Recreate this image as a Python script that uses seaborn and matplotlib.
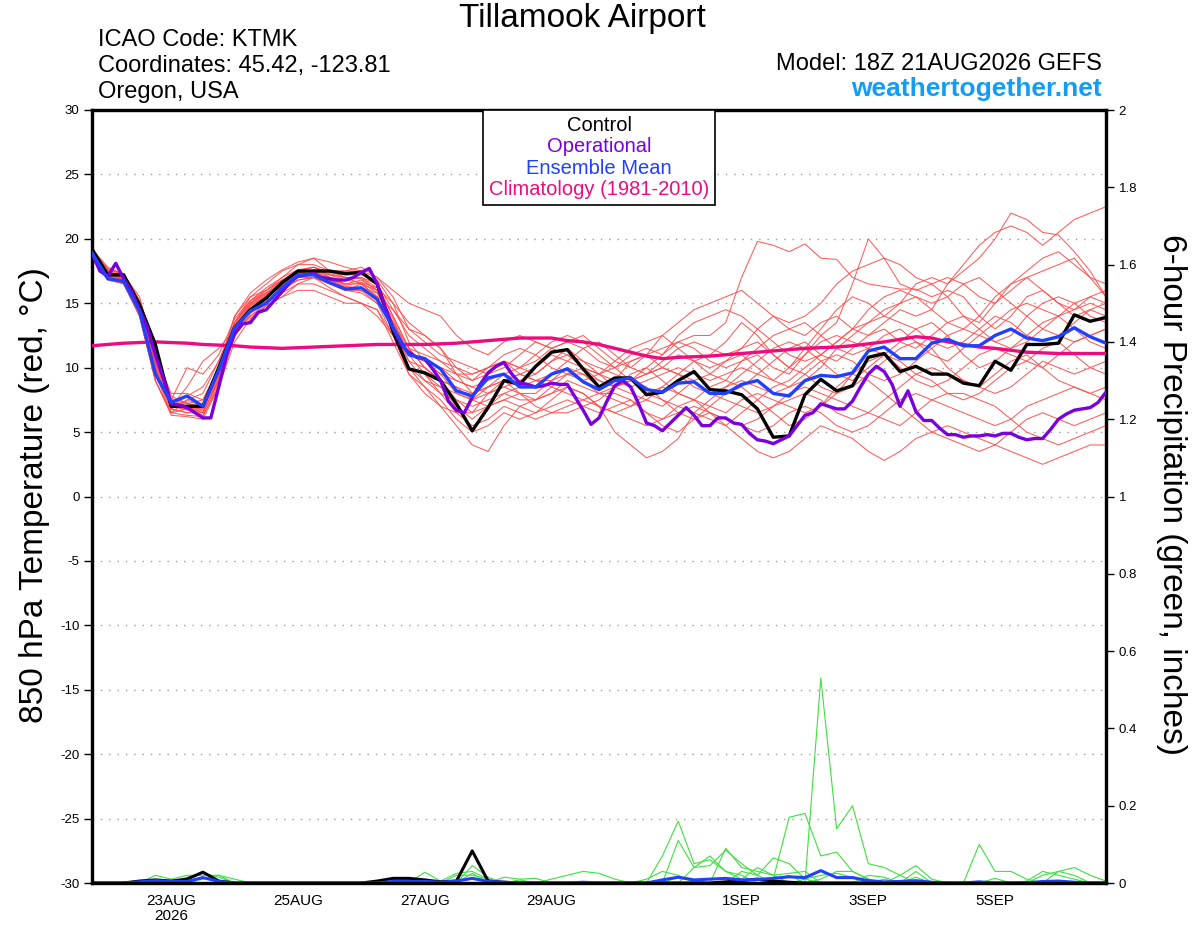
import numpy as np
import pandas as pd
import matplotlib
matplotlib.use("Agg")
import matplotlib.pyplot as plt
from matplotlib.lines import Line2D
from matplotlib.ticker import FuncFormatter
import seaborn as sns

# ---------------- data ----------------
hours = [6 * k for k in range(65)]          # 18Z 21AUG2026 + 0..384 h
hours_op = [3 * k for k in range(129)]      # operational run, 3-hourly

control = [19.2, 17.2, 17.2, 14.9, 11.8, 7.0, 7.0, 7.0, 10.0, 13.1,
           14.5, 15.4, 16.6, 17.5, 17.5, 17.5, 17.3, 17.4, 16.5, 12.8,
           9.9, 9.6, 9.0, 7.2, 5.1, 6.9, 9.0, 8.7, 10.1, 11.2,
           11.4, 9.9, 8.5, 9.2, 9.2, 7.9, 8.1, 9.0, 9.7, 8.3,
           8.2, 7.9, 6.8, 4.6, 4.7, 7.9, 9.1, 8.2, 8.6, 10.8,
           11.1, 9.7, 10.1, 9.5, 9.5, 8.8, 8.6, 10.5, 9.8, 11.8,
           11.8, 11.9, 14.1, 13.6, 13.9]

ens_mean = [18.9, 16.9, 16.7, 14.4, 9.5, 7.3, 7.8, 7.0, 9.8, 13.1,
            14.4, 15.0, 16.2, 17.2, 17.2, 16.6, 16.1, 16.2, 15.3, 13.1,
            11.0, 10.7, 9.9, 8.2, 7.8, 9.2, 9.5, 8.5, 8.5, 9.5,
            9.9, 8.9, 8.3, 9.0, 9.2, 8.3, 8.1, 8.8, 8.9, 8.0,
            8.0, 8.7, 9.0, 8.0, 7.8, 9.0, 9.4, 9.3, 9.6, 11.3,
            11.6, 10.7, 10.7, 11.9, 12.2, 11.7, 11.7, 12.5, 13.0, 12.3,
            12.1, 12.4, 13.1, 12.4, 11.9]

climatology = [11.7, 11.8, 11.9, 11.95, 12.0, 11.95, 11.9, 11.8, 11.75, 11.7,
               11.6, 11.55, 11.5, 11.55, 11.6, 11.65, 11.7, 11.75, 11.8, 11.8,
               11.8, 11.8, 11.85, 11.9, 12.0, 12.1, 12.2, 12.3, 12.3, 12.3,
               12.1, 12.0, 11.8, 11.5, 11.2, 10.9, 10.7, 10.8, 10.85, 10.9,
               11.0, 11.1, 11.2, 11.3, 11.4, 11.5, 11.55, 11.6, 11.7, 11.85,
               12.0, 12.2, 12.4, 12.3, 12.0, 11.8, 11.6, 11.5, 11.35, 11.2,
               11.15, 11.1, 11.1, 11.1, 11.1]

operational = [18.9, 17.5, 17.1, 18.1, 16.9, 15.9, 14.5, 13.1, 11.0, 9.2, 7.2,
               7.1, 6.9, 6.5, 6.1, 6.1, 8.5, 11.0, 12.6, 13.4, 13.5,
               14.3, 14.5, 15.2, 15.9, 16.6, 17.1, 17.2, 17.3, 17.0, 16.9,
               16.8, 16.8, 17.0, 17.4, 17.7, 16.5, 14.7, 13.1, 11.8, 11.2,
               10.8, 10.7, 9.9, 9.0, 7.4, 6.7, 6.5, 7.7, 8.7, 9.6,
               10.1, 10.4, 9.5, 8.8, 8.7, 8.5, 8.6, 8.8, 8.7, 8.7,
               7.7, 6.7, 5.6, 6.1, 7.4, 8.6, 9.0, 8.5, 7.2, 5.7,
               5.5, 5.1, 5.7, 6.3, 6.9, 6.3, 5.5, 5.5, 6.1, 6.1,
               5.7, 5.6, 4.9, 4.4, 4.3, 4.1, 4.4, 4.7, 5.5, 6.3,
               6.5, 7.2, 7.0, 6.8, 6.8, 7.4, 8.5, 9.5, 10.1, 9.7,
               8.7, 7.0, 8.2, 6.6, 5.9, 5.9, 5.3, 4.8, 4.8, 4.6,
               4.7, 4.7, 4.8, 4.7, 4.9, 4.9, 4.6, 4.4, 4.5, 4.5,
               5.2, 6.0, 6.4, 6.7, 6.8, 6.9, 7.3, 8.1]

m01 = [19.0, 17.5, 17.0, 15.0, 10.5, 7.0, 6.8, 6.5, 9.0, 13.0,
       14.8, 15.5, 16.5, 17.5, 17.8, 17.0, 16.5, 16.8, 16.0, 13.5,
       11.0, 10.5, 9.5, 8.0, 7.5, 8.5, 9.0, 8.0, 8.0, 9.0,
       10.0, 9.5, 8.5, 9.0, 10.5, 11.0, 10.0, 9.5, 10.5, 11.0,
       12.0, 13.5, 12.5, 11.0, 10.0, 11.5, 13.0, 14.5, 15.5, 15.0,
       14.0, 15.0, 16.5, 17.0, 16.5, 18.0, 19.5, 20.5, 21.0, 20.5,
       19.5, 20.5, 21.5, 22.0, 22.5]
m02 = [18.5, 17.0, 16.8, 14.0, 9.0, 6.5, 7.5, 8.0, 10.5, 13.5,
       15.0, 16.0, 17.0, 18.0, 18.5, 17.5, 17.0, 16.5, 15.5, 13.0,
       10.5, 10.0, 9.0, 7.5, 6.5, 8.0, 9.0, 9.5, 10.0, 11.0,
       10.5, 10.0, 9.5, 10.0, 11.0, 11.5, 11.0, 12.0, 12.5, 12.5,
       13.5, 17.0, 19.8, 19.5, 19.0, 19.6, 18.5, 18.4, 17.0, 16.5,
       16.3, 16.1, 16.1, 15.5, 16.0, 15.5, 14.0, 13.0, 14.0, 15.5,
       16.0, 15.0, 14.5, 15.5, 16.0]
m03 = [19.2, 17.8, 17.2, 15.5, 11.0, 7.5, 7.0, 7.2, 9.5, 13.5,
       15.5, 16.5, 17.5, 18.0, 18.0, 17.5, 17.5, 17.8, 17.0, 15.5,
       13.0, 12.5, 11.5, 10.0, 9.0, 9.5, 10.5, 10.0, 9.5, 10.5,
       11.0, 10.0, 9.0, 8.5, 9.5, 10.0, 9.0, 8.0, 7.5, 8.5,
       9.0, 10.5, 11.0, 10.0, 9.5, 11.0, 12.5, 13.5, 16.5, 20.0,
       18.5, 16.5, 16.0, 16.5, 15.5, 14.0, 13.5, 15.0, 16.5, 17.5,
       18.5, 19.0, 18.0, 17.0, 16.5]
m04 = [18.8, 17.2, 17.0, 14.5, 10.0, 6.8, 6.5, 6.5, 9.0, 12.5,
       14.5, 15.5, 16.5, 17.0, 17.0, 16.5, 16.0, 16.5, 16.0, 13.0,
       10.0, 9.5, 8.5, 7.0, 6.0, 7.0, 8.0, 7.5, 7.5, 8.0,
       9.0, 8.5, 8.0, 8.5, 9.0, 9.5, 10.5, 11.5, 12.0, 11.5,
       11.0, 11.5, 13.0, 14.0, 13.0, 12.5, 13.5, 14.0, 13.0, 12.5,
       13.5, 14.5, 14.0, 14.5, 16.5, 17.5, 18.5, 20.0, 22.0, 21.5,
       20.5, 20.3, 19.0, 17.5, 15.5]
m05 = [18.6, 17.0, 16.5, 14.0, 9.0, 6.3, 6.2, 6.0, 8.5, 12.5,
       14.0, 15.0, 15.8, 16.5, 16.5, 16.0, 15.5, 15.0, 14.5, 12.0,
       9.5, 8.5, 7.5, 6.0, 5.0, 5.5, 6.5, 6.0, 6.5, 7.0,
       7.5, 7.0, 6.5, 7.0, 7.5, 6.5, 5.5, 5.0, 6.0, 6.5,
       5.5, 4.5, 3.5, 3.0, 3.5, 4.5, 5.5, 5.0, 4.5, 3.5,
       2.8, 3.5, 4.5, 5.0, 5.5, 5.0, 4.5, 4.0, 3.5, 3.0,
       2.5, 3.0, 3.5, 4.0, 4.0]
m06 = [19.0, 17.6, 17.3, 15.2, 11.0, 8.0, 8.0, 7.5, 10.0, 14.0,
       15.5, 16.0, 16.8, 17.5, 17.8, 17.2, 17.0, 17.0, 16.5, 14.5,
       12.5, 11.5, 10.5, 9.5, 9.0, 10.0, 10.5, 9.5, 9.0, 9.5,
       10.5, 11.5, 12.0, 11.0, 10.0, 9.5, 10.0, 11.0, 10.5, 9.5,
       9.0, 8.5, 9.5, 10.5, 11.5, 12.0, 11.0, 10.5, 11.5, 12.5,
       13.0, 12.0, 11.5, 12.5, 13.5, 14.0, 13.0, 12.0, 12.5, 14.0,
       15.0, 15.5, 15.0, 14.0, 13.5]
m07 = [18.7, 17.3, 16.8, 14.8, 10.5, 7.5, 10.0, 9.5, 11.0, 13.8,
       15.2, 15.8, 16.2, 16.8, 17.0, 16.2, 15.5, 15.0, 14.0, 12.5,
       11.0, 10.5, 10.0, 9.0, 8.5, 8.0, 8.5, 9.0, 9.5, 10.5,
       11.5, 10.5, 9.5, 8.5, 8.0, 7.5, 7.0, 8.0, 9.0, 9.5,
       10.5, 11.5, 12.0, 11.0, 10.0, 9.5, 8.5, 8.0, 8.5, 9.5,
       10.5, 11.5, 12.0, 11.5, 10.0, 9.0, 8.5, 9.5, 10.5, 11.0,
       10.0, 9.0, 8.5, 8.0, 7.5]
m08 = [18.9, 17.4, 17.0, 14.5, 9.5, 7.0, 8.5, 10.5, 11.5, 13.0,
       14.0, 14.8, 15.5, 16.5, 17.0, 16.5, 16.0, 16.0, 15.0, 13.5,
       11.5, 10.0, 9.0, 8.5, 7.5, 7.0, 7.5, 8.0, 7.0, 6.5,
       6.5, 7.0, 7.5, 8.5, 9.0, 8.5, 7.5, 6.5, 6.0, 7.0,
       8.0, 8.5, 7.5, 6.5, 5.5, 6.0, 7.0, 8.0, 9.5, 10.5,
       11.0, 10.5, 9.5, 9.0, 8.0, 7.5, 8.0, 9.0, 10.0, 10.5,
       11.5, 12.0, 11.0, 10.0, 9.5]
m09 = [19.1, 17.6, 17.2, 15.0, 10.5, 7.2, 7.0, 7.0, 9.5, 13.2,
       15.0, 15.8, 16.5, 17.0, 17.5, 17.5, 17.5, 17.5, 17.0, 16.0,
       15.0, 14.5, 14.0, 12.5, 11.5, 11.0, 12.0, 12.5, 12.0, 11.5,
       12.0, 12.5, 11.5, 10.5, 10.0, 11.0, 12.5, 13.5, 14.5, 15.0,
       15.5, 16.0, 15.0, 14.0, 13.5, 14.0, 15.0, 16.5, 17.5, 18.0,
       18.5, 18.0, 17.0, 16.5, 17.0, 16.5, 15.5, 15.0, 16.0, 17.0,
       17.5, 18.0, 18.5, 17.0, 15.5]
m10 = [18.4, 16.8, 16.5, 14.0, 9.0, 6.5, 6.8, 6.3, 8.5, 12.0,
       13.8, 14.8, 15.5, 16.0, 16.0, 15.5, 15.0, 15.0, 14.5, 12.5,
       10.0, 8.5, 7.0, 5.5, 4.0, 3.5, 5.5, 7.0, 7.5, 8.0,
       8.5, 8.0, 7.0, 6.5, 7.0, 8.0, 8.5, 8.0, 7.5, 6.5,
       6.0, 5.5, 5.0, 5.5, 6.5, 7.0, 6.5, 5.5, 5.0, 5.5,
       6.5, 7.5, 8.0, 7.5, 7.0, 6.5, 6.0, 5.5, 6.0, 7.0,
       7.5, 8.0, 8.5, 8.0, 8.5]
m11 = [18.8, 17.2, 16.9, 14.6, 10.0, 7.0, 6.8, 6.8, 9.2, 13.0,
       14.6, 15.4, 16.4, 17.2, 17.4, 17.0, 16.8, 17.0, 16.2, 14.0,
       11.5, 10.0, 9.0, 8.5, 8.0, 8.5, 9.5, 10.0, 11.0, 12.0,
       12.5, 12.0, 11.0, 10.0, 9.0, 8.0, 7.5, 7.0, 6.5, 6.0,
       5.5, 6.5, 7.5, 8.5, 9.0, 10.0, 11.0, 12.0, 13.0, 13.5,
       14.5, 15.0, 15.5, 14.5, 13.5, 13.0, 14.0, 15.5, 16.5, 17.0,
       16.0, 15.0, 14.0, 14.5, 15.0]
m12 = [18.9, 17.5, 17.1, 15.0, 10.8, 7.8, 7.2, 7.5, 10.0, 13.5,
       15.2, 16.2, 17.0, 17.6, 17.8, 17.4, 17.2, 17.2, 16.8, 15.0,
       12.0, 10.5, 9.5, 9.0, 8.5, 9.0, 9.5, 9.0, 8.5, 9.5,
       10.0, 9.0, 8.0, 7.5, 7.0, 7.5, 8.5, 9.5, 9.0, 8.0,
       7.5, 7.0, 6.5, 7.0, 8.0, 8.5, 8.0, 7.5, 7.0, 6.5,
       6.0, 5.5, 6.5, 7.5, 8.0, 8.0, 7.5, 7.0, 6.0, 5.0,
       4.5, 4.0, 4.5, 5.0, 5.5]
m13 = [18.6, 17.1, 16.6, 14.2, 9.8, 6.8, 7.5, 7.0, 9.0, 12.8,
       14.5, 15.5, 16.5, 17.2, 17.2, 16.8, 16.5, 16.5, 15.5, 13.0,
       10.5, 9.0, 8.0, 7.5, 7.0, 7.5, 8.0, 8.5, 9.0, 8.5,
       8.0, 7.5, 7.0, 5.0, 4.0, 3.0, 3.5, 4.5, 6.5, 7.5,
       8.5, 9.5, 10.5, 11.5, 12.0, 11.5, 10.5, 9.5, 9.0, 10.0,
       11.0, 12.0, 13.0, 13.5, 12.5, 11.0, 10.0, 10.5, 11.5, 12.5,
       13.5, 14.0, 13.0, 12.0, 11.5]
m14 = [19.0, 17.4, 17.1, 14.9, 10.2, 7.3, 7.8, 8.5, 10.5, 13.5,
       15.0, 15.8, 16.8, 17.3, 17.3, 16.8, 16.2, 16.0, 15.5, 14.5,
       13.0, 12.0, 11.0, 10.5, 10.0, 9.5, 10.0, 11.0, 12.0, 11.5,
       11.0, 10.5, 10.0, 9.5, 9.0, 9.5, 10.0, 9.5, 8.5, 8.0,
       8.5, 9.0, 8.5, 8.0, 8.5, 9.5, 10.5, 11.0, 10.5, 9.5,
       9.0, 9.5, 10.5, 11.5, 12.5, 13.0, 12.5, 12.0, 11.5, 12.0,
       13.0, 14.0, 15.0, 15.5, 15.0]
m15 = [18.7, 17.0, 16.7, 14.3, 9.5, 6.8, 6.5, 6.8, 9.5, 13.0,
       14.8, 15.6, 16.4, 17.0, 17.2, 16.8, 16.3, 16.2, 15.8, 13.8,
       11.0, 9.5, 8.0, 6.5, 5.5, 6.0, 7.0, 6.5, 6.0, 6.5,
       7.0, 7.5, 8.0, 8.0, 7.5, 6.5, 6.0, 6.5, 7.0, 6.5,
       6.0, 5.5, 6.0, 7.0, 7.5, 8.0, 7.5, 6.5, 6.0, 6.5,
       7.5, 8.5, 9.5, 10.0, 9.5, 9.0, 8.5, 8.0, 8.5, 9.5,
       10.5, 10.0, 9.5, 10.0, 10.5]
m16 = [18.9, 17.3, 16.9, 14.7, 10.0, 7.0, 7.0, 6.5, 9.0, 12.8,
       14.6, 15.6, 16.6, 17.4, 17.5, 17.2, 16.8, 16.6, 15.8, 13.5,
       11.0, 10.5, 10.0, 9.5, 9.5, 10.0, 10.5, 10.0, 10.5, 11.5,
       12.0, 11.5, 10.5, 10.0, 10.5, 11.0, 11.5, 12.0, 11.5, 10.5,
       10.0, 10.5, 11.5, 12.5, 13.0, 13.5, 12.5, 11.5, 11.0, 11.5,
       12.5, 13.0, 12.0, 11.0, 10.5, 11.5, 12.5, 13.5, 14.5, 15.0,
       14.5, 14.0, 14.5, 15.0, 14.5]
m17 = [18.5, 17.0, 16.5, 14.2, 9.5, 6.5, 6.3, 6.2, 8.8, 12.5,
       14.2, 15.2, 16.0, 16.8, 17.0, 16.6, 16.0, 15.8, 15.0, 12.5,
       9.5, 8.0, 7.0, 6.5, 6.5, 7.0, 7.5, 7.0, 6.5, 7.5,
       8.5, 8.0, 7.0, 6.5, 6.0, 5.5, 6.0, 7.0, 7.5, 7.0,
       6.5, 7.5, 8.0, 7.5, 7.0, 6.5, 7.0, 8.5, 9.5, 9.0,
       8.0, 7.0, 6.0, 5.0, 4.5, 4.0, 3.5, 4.0, 5.0, 6.0,
       6.5, 6.0, 5.5, 6.0, 6.5]
m18 = [19.2, 17.7, 17.3, 15.2, 10.5, 7.5, 7.2, 7.0, 10.0, 14.0,
       15.8, 16.8, 17.6, 18.2, 18.5, 18.2, 17.8, 17.5, 16.5, 14.0,
       11.5, 11.0, 10.5, 10.0, 9.5, 10.0, 11.0, 11.5, 11.0, 10.0,
       9.5, 9.0, 9.5, 10.5, 11.5, 12.0, 12.5, 11.5, 10.5, 10.0,
       10.5, 11.0, 10.0, 9.0, 8.5, 9.0, 10.0, 11.5, 12.5, 13.5,
       14.0, 13.5, 13.0, 12.0, 11.5, 12.0, 13.0, 14.0, 13.5, 12.5,
       12.0, 12.5, 13.5, 14.5, 14.0]
m19 = [18.6, 17.1, 16.8, 14.4, 9.8, 7.0, 6.7, 6.9, 9.3, 13.0,
       14.9, 15.7, 16.7, 17.3, 17.6, 17.3, 17.0, 16.9, 16.0, 13.0,
       10.0, 9.0, 8.5, 8.0, 7.5, 8.0, 8.5, 8.0, 7.5, 8.5,
       9.5, 10.0, 9.5, 9.0, 8.5, 9.0, 9.5, 10.0, 9.5, 9.0,
       9.5, 10.0, 9.5, 9.0, 10.0, 11.0, 12.0, 12.5, 12.0, 11.5,
       11.0, 10.0, 9.0, 8.5, 9.0, 10.0, 11.0, 11.5, 11.0, 10.5,
       10.0, 11.0, 12.0, 12.5, 13.0]
m20 = [18.8, 17.2, 16.8, 14.6, 10.3, 7.6, 7.3, 6.6, 9.6, 13.3,
       15.2, 16.0, 16.8, 17.4, 17.5, 17.0, 16.4, 16.6, 16.2, 15.0,
       13.5, 12.5, 11.5, 9.5, 8.0, 8.5, 9.0, 9.5, 9.0, 9.0,
       9.5, 9.5, 9.0, 8.5, 9.0, 10.0, 11.0, 12.5, 13.5, 14.0,
       14.5, 14.0, 13.0, 12.0, 11.0, 10.5, 11.0, 12.0, 13.0, 14.5,
       15.5, 16.0, 15.5, 15.0, 15.5, 16.5, 17.0, 16.0, 15.0, 14.0,
       13.0, 12.5, 12.0, 12.5, 13.0]
members = [m01, m02, m03, m04, m05, m06, m07, m08, m09, m10,
           m11, m12, m13, m14, m15, m16, m17, m18, m19, m20]

# 6-hour precipitation (inches)
g1 = [0, 0, 0, 0, 0, 0, 0, 0, 0, 0, 0, 0, 0,
      0, 0, 0, 0, 0, 0, 0, 0, 0, 0, 0, 0, 0,
      0, 0, 0, 0, 0, 0, 0, 0, 0, 0.01, 0.03, 0.02, 0,
      0, 0, 0, 0, 0.01, 0.02, 0, 0.53, 0.14, 0.20, 0.05, 0.04, 0.02,
      0, 0, 0, 0, 0, 0, 0, 0, 0, 0, 0, 0, 0]
g2 = [0, 0, 0, 0, 0, 0, 0, 0, 0, 0, 0, 0, 0,
      0, 0, 0, 0, 0, 0, 0, 0, 0, 0, 0, 0, 0,
      0, 0, 0, 0, 0, 0, 0, 0, 0, 0, 0.07, 0.16, 0.05,
      0.06, 0.03, 0.02, 0, 0.01, 0.17, 0.18, 0.07, 0.08, 0.03, 0.01, 0, 0,
      0, 0, 0, 0, 0, 0, 0, 0, 0, 0, 0, 0, 0]
g3 = [0, 0, 0, 0, 0, 0, 0, 0, 0, 0, 0, 0, 0,
      0, 0, 0, 0, 0, 0, 0, 0, 0, 0, 0, 0, 0,
      0, 0, 0, 0, 0, 0, 0, 0, 0, 0, 0, 0.11, 0.04,
      0.045, 0.085, 0.05, 0.02, 0.065, 0.05, 0.01, 0, 0, 0, 0, 0, 0.02,
      0.045, 0.01, 0, 0, 0, 0, 0, 0, 0, 0, 0, 0, 0]
g4 = [0, 0, 0, 0, 0.02, 0.01, 0.02, 0.02, 0.02, 0.01, 0, 0, 0,
      0, 0, 0, 0, 0, 0, 0, 0, 0.028, 0.005, 0.025, 0.03, 0.01,
      0, 0.008, 0, 0.01, 0.02, 0.03, 0.025, 0.01, 0, 0, 0, 0, 0,
      0, 0, 0, 0, 0, 0, 0, 0, 0, 0, 0, 0, 0,
      0, 0, 0, 0, 0.10, 0.03, 0.03, 0.01, 0, 0.03, 0.04, 0.02, 0.005]
g5 = [0, 0, 0, 0, 0, 0, 0.015, 0.025, 0.015, 0, 0, 0, 0,
      0, 0, 0, 0, 0, 0, 0, 0, 0, 0, 0, 0.045, 0.015,
      0, 0, 0, 0, 0, 0, 0, 0, 0, 0, 0, 0, 0.04,
      0.07, 0.03, 0.01, 0.04, 0.02, 0.025, 0.03, 0, 0, 0, 0.02, 0.015, 0,
      0.03, 0, 0, 0, 0, 0, 0, 0, 0.02, 0.03, 0.02, 0, 0]
g6 = [0, 0, 0, 0, 0, 0, 0, 0, 0, 0, 0, 0, 0,
      0, 0, 0, 0, 0, 0, 0, 0, 0, 0, 0, 0, 0,
      0.015, 0.01, 0.012, 0, 0, 0, 0, 0, 0, 0, 0, 0, 0,
      0, 0.09, 0.04, 0.03, 0.02, 0, 0, 0, 0, 0, 0, 0, 0,
      0, 0, 0, 0, 0, 0.012, 0, 0.005, 0.03, 0.02, 0.01, 0, 0]
g7 = [0, 0, 0, 0, 0, 0, 0, 0.01, 0.02, 0, 0, 0, 0,
      0, 0, 0, 0, 0, 0, 0, 0, 0, 0, 0, 0.025, 0,
      0, 0, 0, 0, 0, 0, 0, 0, 0, 0, 0, 0.015, 0.005,
      0, 0, 0, 0, 0, 0, 0.01, 0.02, 0.025, 0.015, 0, 0.01, 0,
      0.015, 0, 0, 0, 0, 0, 0, 0, 0, 0, 0, 0, 0]
g8 = [0, 0, 0, 0, 0, 0, 0, 0, 0, 0, 0, 0, 0,
      0, 0, 0, 0, 0, 0, 0, 0, 0, 0, 0.02, 0.02, 0.01,
      0, 0, 0, 0, 0, 0, 0, 0, 0, 0, 0, 0, 0,
      0, 0, 0.03, 0.02, 0, 0, 0, 0.01, 0.03, 0.03, 0.01, 0, 0,
      0, 0, 0, 0, 0, 0, 0, 0, 0, 0, 0, 0, 0]
precip_members = [g1, g2, g3, g4, g5, g6, g7, g8]

precip_control = [0, 0, 0, 0.005, 0.008, 0.005, 0.01, 0.028, 0.005, 0, 0, 0, 0,
                  0, 0, 0, 0, 0, 0.005, 0.012, 0.012, 0.008, 0.003, 0.005, 0.083, 0.005,
                  0.002, 0, 0, 0, 0, 0, 0, 0, 0, 0, 0, 0, 0,
                  0, 0.003, 0.006, 0.01, 0.005, 0.002, 0, 0, 0, 0, 0, 0, 0,
                  0, 0, 0, 0, 0, 0, 0, 0, 0, 0, 0, 0, 0]
precip_mean = [0, 0, 0, 0.003, 0.006, 0.004, 0.004, 0.014, 0.004, 0, 0, 0, 0,
               0, 0, 0, 0, 0, 0, 0.004, 0.004, 0.004, 0.002, 0.005, 0.012, 0.004,
               0.002, 0, 0, 0, 0, 0.002, 0, 0, 0, 0, 0.008, 0.015, 0.008,
               0.01, 0.012, 0.008, 0.009, 0.012, 0.016, 0.014, 0.032, 0.014, 0.014, 0.006, 0.003, 0.004,
               0.006, 0.002, 0, 0, 0.003, 0, 0, 0, 0.004, 0.005, 0.002, 0, 0]

xtick_hours = [30, 78, 126, 174, 246, 294, 342]
xtick_labels = ["23AUG\n2026", "25AUG", "27AUG", "29AUG", "1SEP", "3SEP", "5SEP"]
legend_labels = ["Control", "Operational", "Ensemble Mean", "Climatology (1981-2010)"]

# ---------------- style ----------------
sns.set_style("white")
plt.rcParams["font.family"] = ["Liberation Sans", "DejaVu Sans"]
plt.rcParams["text.color"] = "black"
plt.rcParams["xtick.color"] = "black"
plt.rcParams["ytick.color"] = "black"
plt.rcParams["axes.labelcolor"] = "black"

C_MEMBER = "#ff4a4a"
C_GREEN = "#3ee03e"
C_CONTROL = "#000000"
C_OPER = "#7a00dd"
C_MEAN = "#2040ff"
C_CLIM = "#ee0a7f"

W, H = 1200, 927
fig = plt.figure(figsize=(W / 100, H / 100), dpi=100)
ax = fig.add_axes([92 / W, 44 / H, 1014 / W, 773 / H])

# long-form frames
df_mem = pd.DataFrame({
    "hour": hours * len(members),
    "temp": [v for m in members for v in m],
    "member": [k for k in range(len(members)) for _ in hours],
})
df_pcp = pd.DataFrame({
    "hour": hours * len(precip_members),
    "pcp": [v for g in precip_members for v in g],
    "member": [k for k in range(len(precip_members)) for _ in hours],
})

sns.lineplot(data=df_mem, x="hour", y="temp", units="member", estimator=None,
             color=C_MEMBER, lw=0.75, alpha=0.9, ax=ax, legend=False, zorder=2)
sns.lineplot(x=hours, y=climatology, color=C_CLIM, lw=2.4, ax=ax, zorder=3)
sns.lineplot(x=hours, y=control, color=C_CONTROL, lw=2.4, ax=ax, zorder=4)
sns.lineplot(x=hours_op, y=operational, color=C_OPER, lw=2.4, ax=ax, zorder=5)
sns.lineplot(x=hours, y=ens_mean, color=C_MEAN, lw=2.4, ax=ax, zorder=6)

ax.set_xlim(0, 384)
ax.set_ylim(-30, 30)
ax.set_yticks(list(range(-30, 31, 5)))
ax.set_yticklabels([str(v) for v in range(-30, 31, 5)])
ax.set_xticks(xtick_hours)
ax.set_xticklabels(xtick_labels, fontsize=11, linespacing=1.05)
ax.set_xlabel("")
ax.set_ylabel("")
ax.tick_params(axis="y", direction="out", length=6, width=1, labelsize=9.5, pad=3,
               colors="black")
ax.tick_params(axis="x", direction="out", length=5, width=1, pad=3, colors="black")
ax.yaxis.grid(True, linestyle=(0, (1, 5)), color="#9a9a9a", lw=1)
ax.xaxis.grid(False)
for s in ax.spines.values():
    s.set_linewidth(2.3)
    s.set_color("black")

# precipitation on the right axis
ax2 = ax.twinx()
sns.lineplot(data=df_pcp, x="hour", y="pcp", units="member", estimator=None,
             color=C_GREEN, lw=0.8, ax=ax2, legend=False)
sns.lineplot(x=hours, y=precip_control, color=C_CONTROL, lw=2.2, ax=ax2)
sns.lineplot(x=hours, y=precip_mean, color=C_MEAN, lw=2.2, ax=ax2)
ax2.set_ylim(0, 2)
ax2.set_xlim(0, 384)
ax2.set_yticks([round(0.2 * k, 1) for k in range(11)])
ax2.yaxis.set_major_formatter(FuncFormatter(lambda v, p: f"{v:g}"))
ax2.tick_params(axis="y", direction="out", length=6, width=1, labelsize=9.5, pad=3,
                colors="black")
ax2.set_ylabel("")
ax2.grid(False)
for s in ax2.spines.values():
    s.set_linewidth(2.3)
    s.set_color("black")

# legend box
handles = [Line2D([], [], lw=0) for _ in legend_labels]
leg = ax.legend(handles, legend_labels, loc="upper center", bbox_to_anchor=(0.5, 1.0),
                borderaxespad=0, frameon=True, fancybox=False, edgecolor="black",
                framealpha=1, handlelength=0, handletextpad=0, fontsize=14.5,
                labelspacing=0.12, borderpad=0.3, alignment="center")
leg.get_frame().set_linewidth(1.2)
leg.set_zorder(20)
for t, c in zip(leg.get_texts(), [C_CONTROL, C_OPER, C_MEAN, C_CLIM]):
    t.set_color(c)
for col in leg._legend_handle_box.get_children():
    col.align = "center"
ax.set_zorder(ax2.get_zorder() + 1)
ax.patch.set_visible(False)

# header texts
def ftxt(x, y, s, **kw):
    fig.text(x / W, 1 - y / H, s, **kw)

ftxt(582, 19, "Tillamook Airport", fontsize=24, ha="center", va="center")
ftxt(98, 40, "ICAO Code: KTMK", fontsize=17, ha="left", va="center")
ftxt(98, 66, "Coordinates: 45.42, -123.81", fontsize=17, ha="left", va="center")
ftxt(98, 92, "Oregon, USA", fontsize=17, ha="left", va="center")
ftxt(1102, 64, "Model: 18Z 21AUG2026 GEFS", fontsize=17, ha="right", va="center")
ftxt(1102, 89, "weathertogether.net", fontsize=19, ha="right", va="center",
     color="#149cf5", fontweight="bold")
ftxt(35, 495, "850 hPa Temperature (red, °C)", fontsize=24, rotation=90,
     ha="center", va="center")
ftxt(1172, 495, "6-hour Precipitation (green, inches)", fontsize=24, rotation=270,
     ha="center", va="center")

fig.savefig("out.png", dpi=100)
